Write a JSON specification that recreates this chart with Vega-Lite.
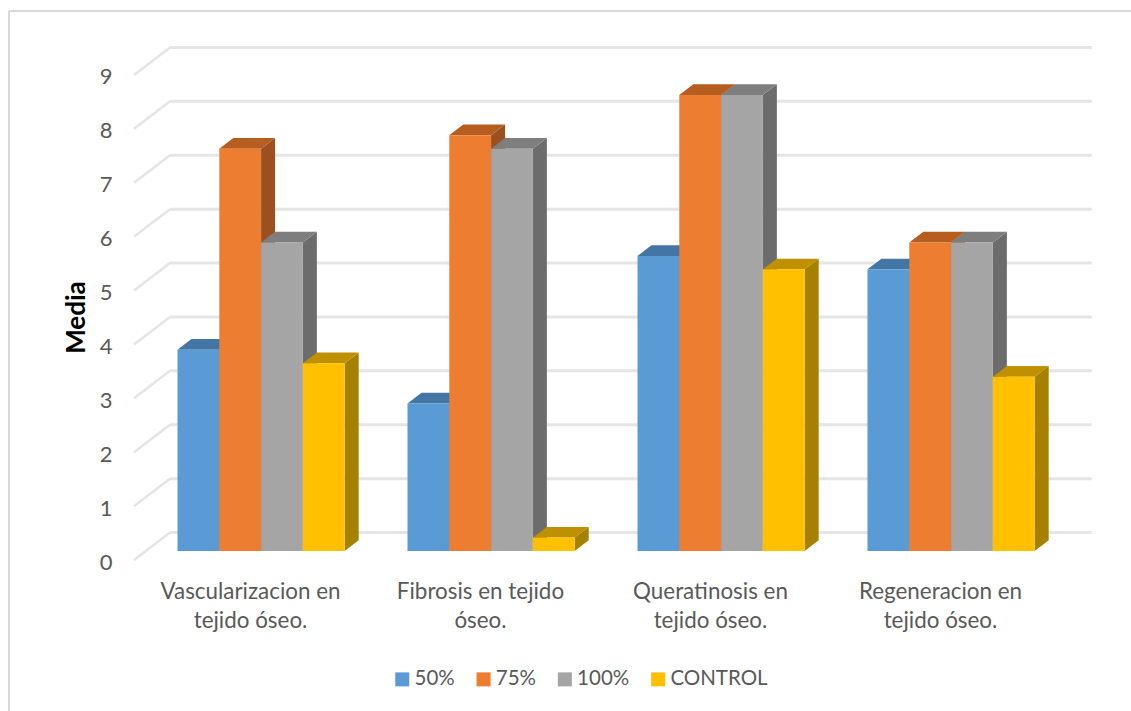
{
  "$schema": "https://vega.github.io/schema/vega-lite/v6.json",
  "width": 1122,
  "height": 700,
  "autosize": "none",
  "padding": {"left": 9, "top": 11, "right": 0, "bottom": 0},
  "background": "#ffffff",
  "view": {"stroke": null},
  "config": {"font": "Lato"},
  "data": {"values": [
    {"categoria": "Vascularizacion en\ntejido óseo.", "orden": 0, "serie": "50%", "media": 3.75},
    {"categoria": "Vascularizacion en\ntejido óseo.", "orden": 0, "serie": "75%", "media": 7.5},
    {"categoria": "Vascularizacion en\ntejido óseo.", "orden": 0, "serie": "100%", "media": 5.75},
    {"categoria": "Vascularizacion en\ntejido óseo.", "orden": 0, "serie": "CONTROL", "media": 3.5},
    {"categoria": "Fibrosis en tejido\nóseo.", "orden": 1, "serie": "50%", "media": 2.75},
    {"categoria": "Fibrosis en tejido\nóseo.", "orden": 1, "serie": "75%", "media": 7.75},
    {"categoria": "Fibrosis en tejido\nóseo.", "orden": 1, "serie": "100%", "media": 7.5},
    {"categoria": "Fibrosis en tejido\nóseo.", "orden": 1, "serie": "CONTROL", "media": 0.25},
    {"categoria": "Queratinosis en\ntejido óseo.", "orden": 2, "serie": "50%", "media": 5.5},
    {"categoria": "Queratinosis en\ntejido óseo.", "orden": 2, "serie": "75%", "media": 8.5},
    {"categoria": "Queratinosis en\ntejido óseo.", "orden": 2, "serie": "100%", "media": 8.5},
    {"categoria": "Queratinosis en\ntejido óseo.", "orden": 2, "serie": "CONTROL", "media": 5.25},
    {"categoria": "Regeneracion en\ntejido óseo.", "orden": 3, "serie": "50%", "media": 5.25},
    {"categoria": "Regeneracion en\ntejido óseo.", "orden": 3, "serie": "75%", "media": 5.75},
    {"categoria": "Regeneracion en\ntejido óseo.", "orden": 3, "serie": "100%", "media": 5.75},
    {"categoria": "Regeneracion en\ntejido óseo.", "orden": 3, "serie": "CONTROL", "media": 3.25}
  ]},
  "datasets": {"marcas": [{"marca": 0}, {"marca": 1}, {"marca": 2}, {"marca": 3}, {"marca": 4}, {"marca": 5}, {"marca": 6}, {"marca": 7}, {"marca": 8}, {"marca": 9}]},
  "transform": [
    {"calculate": "datum.orden + indexof(['50%','75%','100%','CONTROL'], datum.serie) * 0.1817", "as": "x0"},
    {"calculate": "datum.x0 + 0.1817", "as": "x1"},
    {"calculate": "datum.categoria + datum.serie", "as": "barra"}
  ],
  "layer": [
    {
      "description": "Frame along the top and left edges",
      "mark": {"type": "rule", "color": "#d9d9d9", "strokeWidth": 2},
      "encoding": {
        "x": {"datum": -0.7326, "type": "quantitative", "scale": {"domain": [-0.7326, 4.1457]}, "axis": null}
      }
    },
    {
      "mark": {"type": "rule", "color": "#d9d9d9", "strokeWidth": 2},
      "encoding": {
        "y": {"datum": 10.066, "type": "quantitative", "scale": {"domain": [-2.982, 10.066]}, "axis": null},
        "x": {"datum": -0.7326, "type": "quantitative", "scale": {"domain": [-0.7326, 4.1457]}, "axis": null},
        "x2": {"datum": 4.1457}
      }
    },
    {
      "description": "Slanted wall lines, carrying the value axis",
      "data": {"name": "marcas"},
      "transform": [{"calculate": "datum.marca + 0.51", "as": "fondo"}],
      "mark": {"type": "rule", "color": "#e5e5e5", "strokeWidth": 2.5},
      "encoding": {
        "x": {"datum": -0.189, "type": "quantitative", "scale": {"domain": [-0.7326, 4.1457]}, "axis": null},
        "x2": {"datum": -0.0326},
        "y": {
          "field": "marca", "type": "quantitative",
          "scale": {"domain": [-2.801, 10.186]},
          "axis": {
            "orient": "left", "offset": -109, "values": [0, 1, 2, 3, 4, 5, 6, 7, 8, 9], "format": "d",
            "domain": false, "ticks": false, "grid": false,
            "labelFontSize": 22, "labelColor": "#595959", "labelPadding": 6, "labelOffset": 2,
            "title": "Media", "titleFontSize": 26, "titleFontWeight": "bold", "titleColor": "#000000",
            "titleX": -29, "titleY": 306, "titleAngle": -90
          }
        },
        "y2": {"field": "fondo"}
      }
    },
    {
      "description": "Back wall lines",
      "data": {"name": "marcas"},
      "transform": [{"calculate": "datum.marca + 0.51", "as": "fondo"}],
      "mark": {"type": "rule", "color": "#e5e5e5", "strokeWidth": 3},
      "encoding": {
        "x": {"datum": -0.0326, "type": "quantitative", "scale": {"domain": [-0.7326, 4.1457]}, "axis": null},
        "x2": {"datum": 3.975},
        "y": {"field": "fondo", "type": "quantitative", "scale": {"domain": [-2.801, 10.186]}, "axis": null}
      }
    },
    {
      "description": "Right-hand side faces of the bars",
      "transform": [
        {"calculate": "[0, 1]", "as": "esquina"},
        {"flatten": ["esquina"]},
        {"calculate": "datum.x1 + datum.esquina * 0.0609", "as": "xs"},
        {"calculate": "datum.media + datum.esquina * 0.2", "as": "ys"},
        {"calculate": "datum.esquina * 0.2", "as": "yb"}
      ],
      "mark": {"type": "area", "orient": "vertical"},
      "encoding": {
        "x": {"field": "xs", "type": "quantitative", "scale": {"domain": [-0.7326, 4.1457]}, "axis": null},
        "y": {"field": "ys", "type": "quantitative", "stack": null, "scale": {"domain": [-2.982, 10.066]}, "axis": null},
        "y2": {"field": "yb"},
        "detail": {"field": "barra"},
        "color": {
          "field": "serie", "type": "nominal", "legend": null,
          "scale": {"domain": ["50%", "75%", "100%", "CONTROL"], "range": ["#3B6A94", "#9B5020", "#6C6C6C", "#A68100"]}
        }
      }
    },
    {
      "description": "Top faces of the bars",
      "transform": [
        {"calculate": "[0, 1]", "as": "esquina"},
        {"flatten": ["esquina"]},
        {"calculate": "datum.x0 + datum.esquina * 0.0609", "as": "xa"},
        {"calculate": "datum.x1 + datum.esquina * 0.0609", "as": "xb"},
        {"calculate": "datum.media + datum.esquina * 0.2", "as": "ys"}
      ],
      "mark": {"type": "area", "orient": "horizontal"},
      "encoding": {
        "y": {"field": "ys", "type": "quantitative", "scale": {"domain": [-2.982, 10.066]}, "axis": null},
        "x": {"field": "xa", "type": "quantitative", "stack": null, "scale": {"domain": [-0.7326, 4.1457]}, "axis": null},
        "x2": {"field": "xb"},
        "detail": {"field": "barra"},
        "color": {
          "field": "serie", "type": "nominal", "legend": null,
          "scale": {"domain": ["50%", "75%", "100%", "CONTROL"], "range": ["#4376A4", "#B65E20", "#7E7E7E", "#BF9000"]}
        }
      }
    },
    {
      "description": "Front faces of the bars",
      "mark": {"type": "bar"},
      "encoding": {
        "x": {"field": "x0", "type": "quantitative", "scale": {"domain": [-0.7326, 4.1457]}, "axis": null},
        "x2": {"field": "x1"},
        "y": {"field": "media", "type": "quantitative", "stack": null, "scale": {"domain": [-2.982, 10.066]}, "axis": null},
        "y2": {"datum": 0},
        "color": {
          "field": "serie", "type": "nominal",
          "scale": {"domain": ["50%", "75%", "100%", "CONTROL"], "range": ["#5B9BD5", "#ED7D31", "#A5A5A5", "#FFC000"]},
          "legend": {
            "orient": "none", "legendX": 383, "legendY": 658, "direction": "horizontal", "columns": 4,
            "title": null, "symbolType": "square", "symbolSize": 196, "symbolStrokeWidth": 0,
            "labelFontSize": 20.5, "labelColor": "#595959", "labelOffset": 2, "columnPadding": 18.3, "gridAlign": "each"
          }
        }
      }
    },
    {
      "description": "Category names under each group",
      "transform": [
        {"filter": "datum.serie === '50%'"},
        {"calculate": "datum.orden + 0.3174", "as": "xt"}
      ],
      "mark": {"type": "text", "align": "center", "baseline": "middle", "lineBreak": "\n", "lineHeight": 29, "fontSize": 22.4, "color": "#595959"},
      "encoding": {
        "x": {"field": "xt", "type": "quantitative", "scale": {"domain": [-0.7326, 4.1457]}, "axis": null},
        "y": {"datum": -0.76, "type": "quantitative", "scale": {"domain": [-2.982, 10.066]}, "axis": null},
        "text": {"field": "categoria"}
      }
    }
  ],
  "resolve": {"scale": {"y": "independent", "color": "independent"}}
}
